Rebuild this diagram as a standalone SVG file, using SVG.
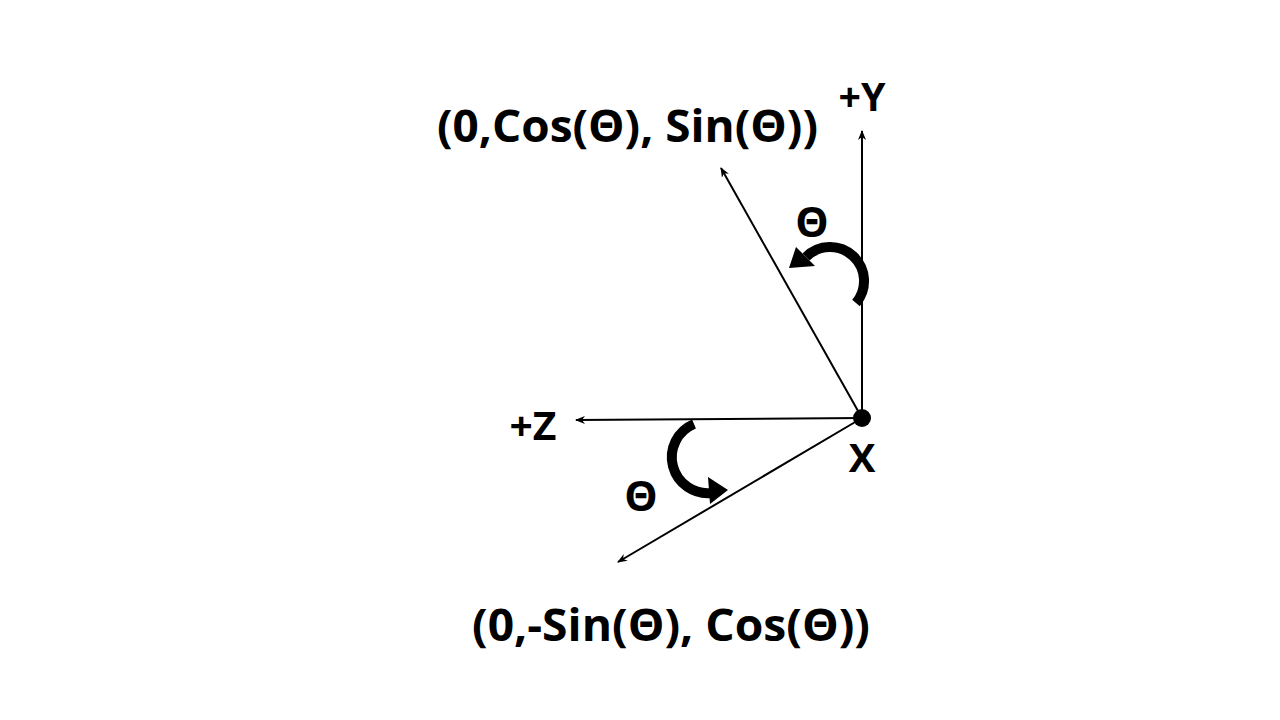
<svg xmlns="http://www.w3.org/2000/svg" width="1280" height="720" viewBox="0 0 1280 720">
<defs>
<marker id="ah" markerWidth="10" markerHeight="8" refX="9" refY="4" orient="auto" markerUnits="userSpaceOnUse">
<path d="M0,0 L10,4 L0,8 L3,4 Z" fill="#000"/>
</marker>
<style>
.t{font-family:"Open Sans","Liberation Sans",sans-serif;font-weight:700;fill:#000}
.ax{stroke:#000;stroke-width:2;fill:none;marker-end:url(#ah)}
.rot{stroke:#000;stroke-width:10;fill:none}
</style>
</defs>
<rect width="1280" height="720" fill="#fff"/>
<g id="connectors">
<line class="ax" x1="862" y1="418" x2="862" y2="131"/>
<line class="ax" x1="862" y1="418" x2="576" y2="420"/>
<line class="ax" x1="862" y1="418" x2="721" y2="168"/>
<line class="ax" x1="862" y1="418" x2="618" y2="562"/>
</g>
<g id="origin"><circle cx="862" cy="418" r="9" fill="#000"/></g>
<g id="rot-top">
<path class="rot" d="M856,303 A34,34 0 0 0 806,257"/>
<polygon points="789,268 796,247 815,266" fill="#000"/>
</g>
<g id="rot-bottom">
<path class="rot" d="M694,424 A36,36 0 0 0 712,493"/>
<polygon points="728,490 708,477 710,504" fill="#000"/>
</g>
<g id="labels">
<text class="t" x="437" y="142" font-size="44" textLength="381" lengthAdjust="spacingAndGlyphs">(0,Cos(Θ), Sin(Θ))</text>
<text class="t" x="472" y="641" font-size="44" textLength="398" lengthAdjust="spacingAndGlyphs">(0,-Sin(Θ), Cos(Θ))</text>
<text class="t" x="862" y="111" font-size="40" text-anchor="middle" textLength="47" lengthAdjust="spacingAndGlyphs">+Y</text>
<text class="t" x="533" y="440" font-size="40" text-anchor="middle" textLength="47" lengthAdjust="spacingAndGlyphs">+Z</text>
<text class="t" x="862" y="472" font-size="40" text-anchor="middle">X</text>
<text class="t" x="812" y="237" font-size="42" text-anchor="middle">Θ</text>
<text class="t" x="641" y="511" font-size="42" text-anchor="middle">Θ</text>
</g>
</svg>
